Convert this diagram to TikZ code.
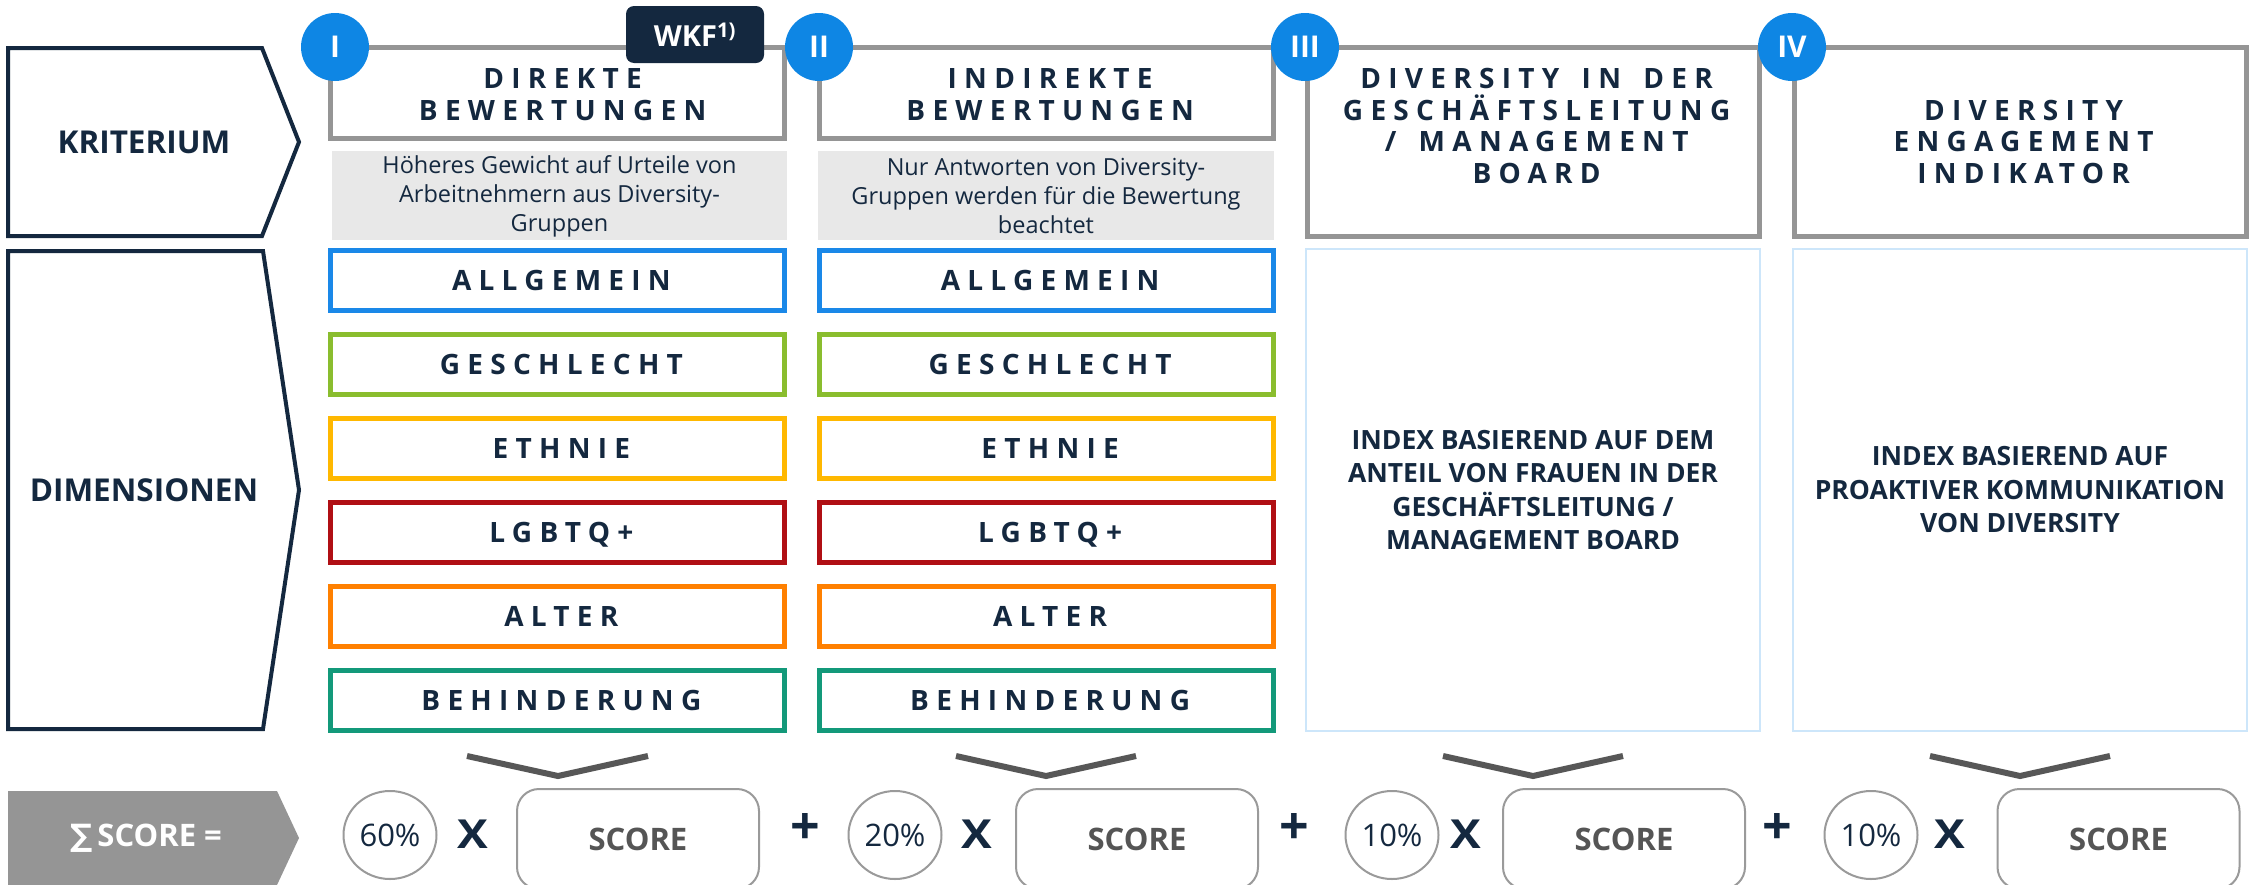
\documentclass[tikz,border=0pt]{standalone}
\usepackage{fontspec}
\usetikzlibrary{shapes.geometric}
\setmainfont{Open Sans}
\newfontfamily\lsfont[LetterSpace=26]{Open Sans}
\newfontfamily\symfont{DejaVu Sans}
\definecolor{navy}{HTML}{14283F}
\definecolor{cblue}{HTML}{0E86E4}
\definecolor{hdrgray}{HTML}{959595}
\definecolor{descfill}{HTML}{E8E8E8}
\definecolor{lightbl}{HTML}{CDE6FA}
\definecolor{chevgray}{HTML}{575757}
\definecolor{scoregray}{HTML}{555555}
\definecolor{ellgray}{HTML}{9A9A9A}
\definecolor{dimblue}{HTML}{1A88E8}
\definecolor{dimgreen}{HTML}{8ABD2E}
\definecolor{dimyellow}{HTML}{FFB800}
\definecolor{dimred}{HTML}{B00F14}
\definecolor{dimorange}{HTML}{FF8000}
\definecolor{dimteal}{HTML}{13997A}
\newcommand{\LS}[1]{{\lsfont\bfseries #1\kern-0.26em}}
\newcommand{\wsp}{\ \hspace{0.28em}}
\tikzset{
  hdrbox/.style={draw=hdrgray, line width=5pt, inner sep=0pt, minimum width=454pt},
  descbox/.style={fill=descfill, inner sep=0pt, minimum width=455pt, minimum height=89pt},
  desctext/.style={text=navy, align=center, font=\fontsize{23.5}{29}\selectfont},
  hdrtext/.style={text=navy, align=center, font=\fontsize{28}{31.5}\selectfont},
  dimbox/.style={line width=5pt, inner sep=0pt, minimum width=454pt, minimum height=60pt,
     text=navy, font=\fontsize{28}{31.5}\selectfont, text height=20pt, text depth=0pt},
  lightbox/.style={draw=lightbl, line width=2.5pt, inner sep=0pt, minimum width=454pt, minimum height=482pt},
  idxtext/.style={text=navy, align=center, font=\bfseries\fontsize{26.5}{33.5}\selectfont},
  numcirc/.style={circle, fill=cblue, minimum size=68pt, inner sep=0pt, text=white,
     font=\bfseries\fontsize{30}{30}\selectfont},
  pent/.style={draw=navy, line width=4pt, line join=miter},
  pentlabel/.style={text=navy, font=\bfseries\fontsize{31.5}{32}\selectfont},
  chev/.style={draw=chevgray, line width=6pt, line join=miter},
  pctcirc/.style={ellipse, draw=ellgray, line width=2pt, minimum width=93pt, minimum height=88pt,
     inner sep=0pt, text=navy, font=\fontsize{31}{31}\selectfont},
  opx/.style={text=navy, font=\bfseries\fontsize{40}{40}\selectfont, inner sep=0pt},
  opplus/.style={text=navy, font=\bfseries\fontsize{52}{52}\selectfont, inner sep=0pt},
  scorebox/.style={draw=ellgray, line width=2pt, rounded corners=22pt, minimum width=242pt,
     minimum height=100pt, inner sep=0pt, text=scoregray, font=\bfseries\fontsize{31}{31}\selectfont}
}
\begin{document}
\begin{tikzpicture}[x=1pt,y=-1pt]
\useasboundingbox[fill=white] (0,0) rectangle (2255,884);

% left arrows
\draw[pent] (8,48) -- (262,48) -- (299,142) -- (262,236) -- (8,236) -- cycle;
\node[pentlabel] (krit) at (144,142) {KRITERIUM};
\draw[pent] (8,251) -- (263,251) -- (299,490) -- (263,729) -- (8,729) -- cycle;
\node[pentlabel] (dimlab) at (144,490) {DIMENSIONEN};

% header boxes
\node[hdrbox, minimum height=91pt] (h1) at (557.75,92.5) {};
\node[hdrbox, minimum height=91pt] (h2) at (1046.5,92.5) {};
\node[hdrbox, minimum height=189pt, minimum width=452pt] (h3) at (1533,141.5) {};
\node[hdrbox, minimum height=189pt, minimum width=452pt] (h4) at (2020,141.5) {};

\node[hdrtext] (h1t) at (559,94.5) {\LS{DIREKTE}\\\LS{BEWERTUNGEN}};
\node[hdrtext] (h2t) at (1046.5,94.5) {\LS{INDIREKTE}\\\LS{BEWERTUNGEN}};
\node[hdrtext] (h3t) at (1533,126) {\LS{DIVERSITY\wsp IN\wsp DER}\\\LS{GESCHÄFTSLEITUNG}\\\LS{/\wsp MANAGEMENT}\\\LS{BOARD}};
\node[hdrtext] (h4t) at (2020,141.5) {\LS{DIVERSITY}\\\LS{ENGAGEMENT}\\\LS{INDIKATOR}};

% WKF tag
\node[fill=navy, rounded corners=8pt, minimum width=138pt, minimum height=57pt, inner sep=0pt,
  text=white, font=\bfseries\fontsize{29}{29}\selectfont] (wkf) at (695,34.5) {WKF\textsuperscript{1)}};

% number circles
\node[numcirc] (c1) at (335,47) {I};
\node[numcirc] (c2) at (819,47) {II};
\node[numcirc] (c3) at (1305,47) {III};
\node[numcirc] (c4) at (1792,47) {IV};

% description boxes
\node[descbox] (d1) at (559.5,195.5) {};
\node[desctext] (d1t) at (559.5,196) {Höheres Gewicht auf Urteile von\\Arbeitnehmern aus Diversity-\\Gruppen};
\node[descbox, minimum width=456pt] (d2) at (1046,195.5) {};
\node[desctext] (d2t) at (1046,196) {Nur Antworten von Diversity-\\Gruppen werden für die Bewertung\\beachtet};

% dimension boxes col I
\node[dimbox, draw=dimblue]   (a1) at (557.75,280.5) {\LS{ALLGEMEIN}};
\node[dimbox, draw=dimgreen]  (a2) at (557.75,364.5) {\LS{GESCHLECHT}};
\node[dimbox, draw=dimyellow] (a3) at (557.75,448.5) {\LS{ETHNIE}};
\node[dimbox, draw=dimred]    (a4) at (557.75,532.5) {\LS{LGBTQ+}};
\node[dimbox, draw=dimorange] (a5) at (557.75,616.5) {\LS{ALTER}};
\node[dimbox, draw=dimteal]   (a6) at (557.75,700.5) {\LS{BEHINDERUNG}};
% col II
\node[dimbox, draw=dimblue]   (b1) at (1046.5,280.5) {\LS{ALLGEMEIN}};
\node[dimbox, draw=dimgreen]  (b2) at (1046.5,364.5) {\LS{GESCHLECHT}};
\node[dimbox, draw=dimyellow] (b3) at (1046.5,448.5) {\LS{ETHNIE}};
\node[dimbox, draw=dimred]    (b4) at (1046.5,532.5) {\LS{LGBTQ+}};
\node[dimbox, draw=dimorange] (b5) at (1046.5,616.5) {\LS{ALTER}};
\node[dimbox, draw=dimteal]   (b6) at (1046.5,700.5) {\LS{BEHINDERUNG}};

% light boxes col III, IV
\node[lightbox] (l3) at (1533,490) {};
\node[idxtext] (l3t) at (1533,490) {INDEX BASIEREND AUF DEM\\ANTEIL VON FRAUEN IN DER\\GESCHÄFTSLEITUNG /\\MANAGEMENT BOARD};
\node[lightbox] (l4) at (2020,490) {};
\node[idxtext] (l4t) at (2020,490) {INDEX BASIEREND AUF\\PROAKTIVER KOMMUNIKATION\\VON DIVERSITY};

% chevrons
\draw[chev] (467,756) -- (558,776) -- (648,756);
\draw[chev] (956,756) -- (1046,776) -- (1136,756);
\draw[chev] (1443,756) -- (1533,776) -- (1623,756);
\draw[chev] (1930,756) -- (2020,776) -- (2110,756);

% score row
\fill[hdrgray] (8,791) -- (277,791) -- (299,838) -- (277,885) -- (8,885) -- cycle;
\node[text=white, font=\bfseries\fontsize{31}{31}\selectfont] (sum) at (146,838) {{\symfont ∑}\,SCORE =};

\node[pctcirc] (p1) at (390,835) {60\%};
\node[opx] (x1) at (473,834) {\scalebox{1.15}[1]{X}};
\node[scorebox] (s1) at (638,839) {SCORE};
\node[opplus] (plus1) at (805,829) {+};
\node[pctcirc] (p2) at (895,835) {20\%};
\node[opx] (x2) at (977,834) {\scalebox{1.15}[1]{X}};
\node[scorebox] (s2) at (1137,839) {SCORE};
\node[opplus] (plus2) at (1294,829) {+};
\node[pctcirc] (p3) at (1392,835) {10\%};
\node[opx] (x3) at (1466,834) {\scalebox{1.15}[1]{X}};
\node[scorebox] (s3) at (1624,839) {SCORE};
\node[opplus] (plus3) at (1777,829) {+};
\node[pctcirc] (p4) at (1871,835) {10\%};
\node[opx] (x4) at (1950,834) {\scalebox{1.15}[1]{X}};
\node[scorebox] (s4) at (2118.5,839) {SCORE};
\end{tikzpicture}
\end{document}
